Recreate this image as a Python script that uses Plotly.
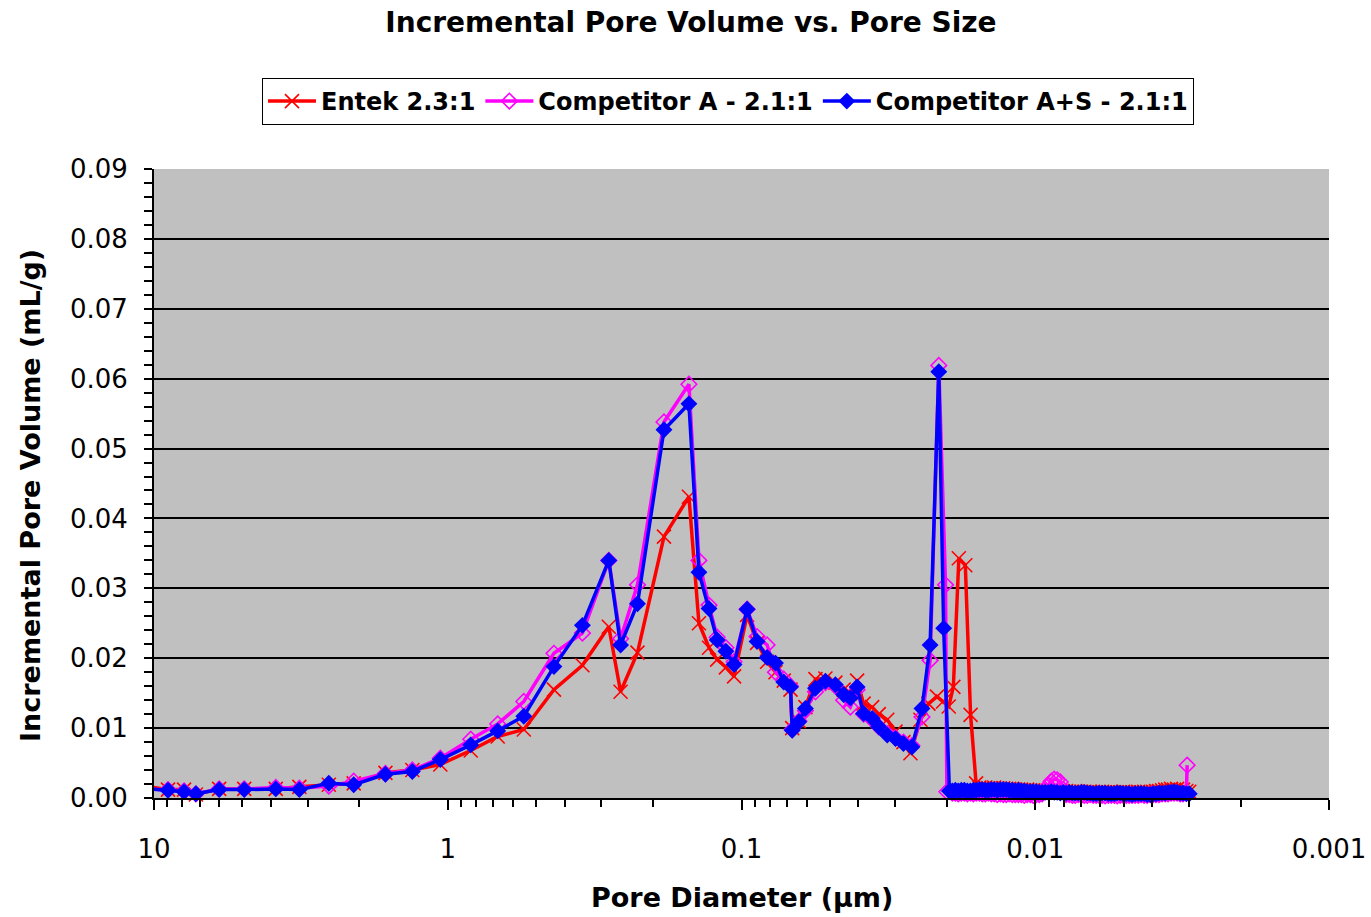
import plotly.graph_objects as go

# ---------------- data ----------------
# pore diameters (µm) shared by all three samples down to 0.0281 µm
common_d = [10.45, 8.96, 7.90, 7.20, 6.00, 4.93, 3.85, 3.20, 2.54, 2.09,
            1.63, 1.32, 1.06, 0.835, 0.676, 0.551, 0.435, 0.348, 0.283, 0.258,
            0.226, 0.1836, 0.151, 0.1396, 0.129, 0.121, 0.113, 0.106, 0.0957, 0.0885,
            0.0818, 0.0766, 0.0718, 0.0681, 0.0672, 0.0638, 0.0606, 0.0560, 0.0518, 0.0479,
            0.0449, 0.0426, 0.0404, 0.0384, 0.0359, 0.0341, 0.0319, 0.0299, 0.0281]
# pore diameters (µm) of the dense small-pore tail
tail_d = [0.01916, 0.01871, 0.01828, 0.01785, 0.01744, 0.01703, 0.01664, 0.01625, 0.01588, 0.01550,
          0.01515, 0.01479, 0.01445, 0.01411, 0.01379, 0.01346, 0.01315, 0.01285, 0.01255, 0.01226,
          0.01197, 0.01169, 0.01142, 0.01116, 0.01090, 0.01065, 0.01040, 0.01016, 0.00992, 0.00969,
          0.00947, 0.00925, 0.00903, 0.00882, 0.00862, 0.00842, 0.00822, 0.00803, 0.00785, 0.00766,
          0.00748, 0.00731, 0.00714, 0.00697, 0.00681, 0.00665, 0.00650, 0.00635, 0.00620, 0.00606,
          0.00592, 0.00578, 0.00564, 0.00551, 0.00538, 0.00526, 0.00514, 0.00502, 0.00490, 0.00479,
          0.00468, 0.00457, 0.00446, 0.00436, 0.00426, 0.00416, 0.00406, 0.00397, 0.00388, 0.00379,
          0.00370, 0.00361, 0.00353, 0.00345, 0.00337, 0.00329, 0.00321, 0.00314, 0.00306, 0.00299]

# Entek 2.3:1
entek_main_v = [0.0016, 0.0012, 0.0012, 0.0005, 0.0013, 0.0013, 0.0013, 0.0016, 0.0019, 0.0021,
                0.0036, 0.0040, 0.0048, 0.0068, 0.0088, 0.0098, 0.0155, 0.0190, 0.0245, 0.0152,
                0.0208, 0.0374, 0.0431, 0.0250, 0.0215, 0.0198, 0.0187, 0.0174, 0.0262, 0.0222,
                0.0195, 0.0180, 0.0168, 0.0155, 0.0100, 0.0110, 0.0130, 0.0170, 0.0171, 0.0165,
                0.0155, 0.0150, 0.0168, 0.0135, 0.0130, 0.0120, 0.0112, 0.0095, 0.0080]
entek_peak_d = [0.0266, 0.0246, 0.0231, 0.0216, 0.0206, 0.0197, 0.0190, 0.0182, 0.0173, 0.0166, 0.0159]
entek_peak_v = [0.0064, 0.0112, 0.0135, 0.0145, 0.0138, 0.0131, 0.0159, 0.0343, 0.0333, 0.0119, 0.0021]
entek_tail_v = [0.0015,
                0.0014, 0.0015, 0.0014, 0.0014, 0.0015, 0.0014, 0.0013, 0.0014, 0.0013, 0.0013,
                0.0013, 0.0012, 0.0012, 0.0012, 0.0011, 0.0012, 0.0011, 0.0011, 0.0011, 0.0010,
                0.0010, 0.0010, 0.0010, 0.0011, 0.0010, 0.0009, 0.0010, 0.0009, 0.0010, 0.0009,
                0.0009, 0.0010, 0.0009, 0.0009, 0.0009, 0.0008, 0.0009, 0.0009, 0.0008, 0.0008,
                0.0009, 0.0008, 0.0008, 0.0009, 0.0008, 0.0008, 0.0008, 0.0009, 0.0008, 0.0008,
                0.0008, 0.0008, 0.0009, 0.0008, 0.0009, 0.0009, 0.0008, 0.0009, 0.0010, 0.0010,
                0.0011, 0.0012, 0.0012, 0.0013, 0.0012, 0.0013, 0.0011, 0.0012, 0.0010, 0.0009]

# Competitor A - 2.1:1
compA_main_v = [0.0013, 0.0012, 0.0010, 0.0006, 0.0013, 0.0013, 0.0015, 0.0014, 0.0017, 0.0024,
                0.0035, 0.0040, 0.0057, 0.0084, 0.0106, 0.0138, 0.0207, 0.0236, 0.0340, 0.0228,
                0.0305, 0.0538, 0.0592, 0.0340, 0.0276, 0.0230, 0.0215, 0.0195, 0.0270, 0.0231,
                0.0219, 0.0180, 0.0170, 0.0160, 0.0098, 0.0110, 0.0125, 0.0152, 0.0165, 0.0160,
                0.0140, 0.0130, 0.0155, 0.0120, 0.0112, 0.0102, 0.0092, 0.0086, 0.0080]
compA_peak_d = [0.0263, 0.0243, 0.0228, 0.0213, 0.0202, 0.0200]
compA_peak_v = [0.0075, 0.0116, 0.0197, 0.0619, 0.0305, 0.0009]
compA_tail_v = [0.0007, 0.0007, 0.0006, 0.0007, 0.0007, 0.0006, 0.0007, 0.0006, 0.0007, 0.0007,
                0.0006, 0.0006, 0.0007, 0.0006, 0.0006, 0.0005, 0.0006, 0.0005, 0.0005, 0.0006,
                0.0005, 0.0005, 0.0005, 0.0005, 0.0004, 0.0005, 0.0005, 0.0004, 0.0005, 0.0005,
                0.0006, 0.0012, 0.0018, 0.0024, 0.0027, 0.0026, 0.0023, 0.0012, 0.0005, 0.0005,
                0.0004, 0.0004, 0.0005, 0.0004, 0.0004, 0.0004, 0.0005, 0.0004, 0.0004, 0.0004,
                0.0004, 0.0003, 0.0004, 0.0004, 0.0004, 0.0003, 0.0004, 0.0004, 0.0004, 0.0004,
                0.0004, 0.0004, 0.0004, 0.0005, 0.0004, 0.0004, 0.0005, 0.0005, 0.0005, 0.0005,
                0.0006, 0.0006, 0.0006, 0.0007, 0.0007, 0.0007, 0.0006, 0.0006, 0.0007]
compA_end_d = [0.00304]
compA_end_v = [0.0047]

# Competitor A+S - 2.1:1
compAS_main_v = [0.0013, 0.0011, 0.0009, 0.0006, 0.0012, 0.0012, 0.0013, 0.0012, 0.0021, 0.0019,
                 0.0034, 0.0038, 0.0055, 0.0076, 0.0096, 0.0117, 0.0188, 0.0247, 0.0340, 0.0219,
                 0.0278, 0.0527, 0.0564, 0.0323, 0.0271, 0.0226, 0.0210, 0.0191, 0.0270, 0.0224,
                 0.0201, 0.0193, 0.0166, 0.0159, 0.0097, 0.0109, 0.0128, 0.0157, 0.0167, 0.0162,
                 0.0148, 0.0143, 0.0159, 0.0121, 0.0114, 0.0102, 0.0090, 0.0085, 0.0078]
compAS_peak_d = [0.0263, 0.0243, 0.0228, 0.0213, 0.0205, 0.0196]
compAS_peak_v = [0.0073, 0.0128, 0.0219, 0.0610, 0.0243, 0.0010]
compAS_tail_v = [0.0010, 0.0011, 0.0010, 0.0011, 0.0011, 0.0010, 0.0010, 0.0011, 0.0011, 0.0012,
                 0.0012, 0.0011, 0.0011, 0.0012, 0.0012, 0.0011, 0.0012, 0.0012, 0.0012, 0.0011,
                 0.0011, 0.0010, 0.0011, 0.0010, 0.0010, 0.0009, 0.0009, 0.0009, 0.0009, 0.0008,
                 0.0008, 0.0008, 0.0008, 0.0009, 0.0008, 0.0008, 0.0007, 0.0008, 0.0007, 0.0008,
                 0.0007, 0.0007, 0.0007, 0.0008, 0.0008, 0.0007, 0.0007, 0.0006, 0.0006, 0.0007,
                 0.0007, 0.0007, 0.0006, 0.0006, 0.0006, 0.0007, 0.0007, 0.0006, 0.0006, 0.0006,
                 0.0005, 0.0006, 0.0006, 0.0006, 0.0006, 0.0005, 0.0005, 0.0006, 0.0006, 0.0007,
                 0.0007, 0.0007, 0.0008, 0.0008, 0.0009, 0.0008, 0.0007, 0.0007, 0.0006, 0.0006]

x_tickvals = [10, 1, 0.1, 0.01, 0.001]
x_ticktext = ["10", "1", "0.1", "0.01", "0.001"]

# assemble the series
entek_d = common_d + entek_peak_d + tail_d[9:]
entek_v = entek_main_v + entek_peak_v + entek_tail_v
compA_d = common_d + compA_peak_d + tail_d[:79] + compA_end_d
compA_v = compA_main_v + compA_peak_v + compA_tail_v + compA_end_v
compAS_d = common_d + compAS_peak_d + tail_d
compAS_v = compAS_main_v + compAS_peak_v + compAS_tail_v
assert len(entek_d) == len(entek_v) and len(compA_d) == len(compA_v) and len(compAS_d) == len(compAS_v)

# ---------------- figure ----------------
FONT = "DejaVu Sans"
fig = go.Figure()
fig.add_trace(go.Scatter(
    x=entek_d, y=entek_v, name="Entek 2.3:1", mode="lines+markers", cliponaxis=False,
    line=dict(color="#FF0000", width=3.5),
    marker=dict(symbol="x-thin-open", size=14, color="#FF0000", line=dict(color="#FF0000", width=1.6))))
fig.add_trace(go.Scatter(
    x=compA_d, y=compA_v, name="Competitor A - 2.1:1", mode="lines+markers", cliponaxis=False,
    line=dict(color="#FF00FF", width=3.5),
    marker=dict(symbol="diamond-open", size=12, color="#FF00FF", line=dict(color="#FF00FF", width=1.6))))
fig.add_trace(go.Scatter(
    x=compAS_d, y=compAS_v, name="Competitor A+S - 2.1:1", mode="lines+markers", cliponaxis=False,
    line=dict(color="#0000FF", width=3.5),
    marker=dict(symbol="diamond", size=13, color="#0000FF")))

fig.update_layout(
    width=1371, height=917,
    margin=dict(l=154, r=42, t=169, b=119),
    paper_bgcolor="white", plot_bgcolor="#C0C0C0",
    font=dict(family=FONT, size=26, color="black"),
    title=dict(text="Incremental Pore Volume vs. Pore Size", x=0.504, xref="container", xanchor="center",
               y=1 - 22 / 917, yref="container", yanchor="middle",
               font=dict(family=FONT, size=28, weight="bold", color="black")),
    legend=dict(orientation="h", x=0.4885, xanchor="center", y=(798 - 78) / 629, yanchor="top",
                bgcolor="white", bordercolor="black", borderwidth=1, itemwidth=48,
                font=dict(family=FONT, size=24, weight="bold", color="black")),
    showlegend=True,
)
fig.update_xaxes(
    type="log", range=[1, -3], tickmode="array", tickvals=x_tickvals, ticktext=x_ticktext,
    ticks="outside", ticklen=10, tickwidth=1.5, tickcolor="black",
    showline=True, linecolor="black", linewidth=2, showgrid=False, zeroline=False,
    ticklabelstandoff=17, automargin=False, ticklabeloverflow="allow",
    minor=dict(ticks="outside", ticklen=7, tickwidth=1.5, tickcolor="black", dtick="D1", showgrid=False),
)
fig.update_yaxes(
    range=[0, 0.09], dtick=0.01, tick0=0, tickformat=".2f",
    ticks="outside", ticklen=8, tickwidth=1.5, tickcolor="black",
    showline=True, linecolor="black", linewidth=2, automargin=False,
    showgrid=True, gridcolor="black", gridwidth=1.5, zeroline=False,
    ticklabelstandoff=11,
    minor=dict(ticks="outside", ticklen=8, tickwidth=1.5, tickcolor="black", dtick=0.002, showgrid=False),
)
fig.add_annotation(text="Pore Diameter (µm)", xref="paper", yref="paper",
                   x=0.5, y=(798 - 897) / 629, xanchor="center", yanchor="middle", showarrow=False,
                   font=dict(family=FONT, size=27, weight="bold", color="black"))
fig.add_annotation(text="Incremental Pore Volume (mL/g)", xref="paper", yref="paper",
                   x=(30 - 154) / 1175, y=(798 - 496) / 629, xanchor="center", yanchor="middle",
                   textangle=-90, showarrow=False,
                   font=dict(family=FONT, size=27, weight="bold", color="black"))

fig.write_html("out.html")
